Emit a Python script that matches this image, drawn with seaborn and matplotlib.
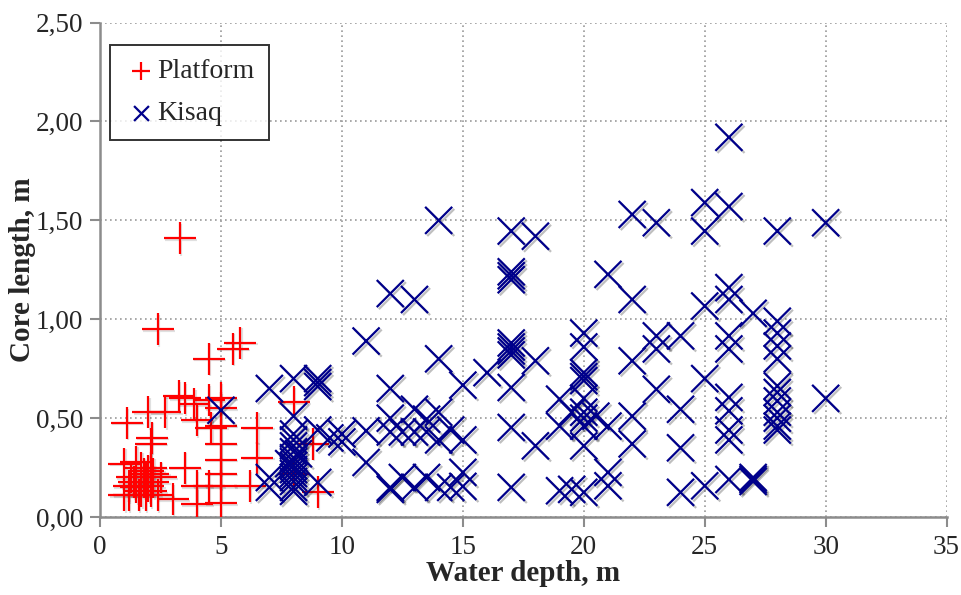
import numpy as np
import pandas as pd
import matplotlib
matplotlib.use("Agg")
import matplotlib.pyplot as plt
import matplotlib.ticker as mticker
import matplotlib.patheffects as pe
import seaborn as sns

# ── Platform cores (water depth m, core length m) ─────────────────────────────
platform_depth = [
    3.3, 2.4, 4.5, 5.5, 5.8, 3.25, 3.5, 3.9, 2.7, 2.0, 1.1, 4.0, 4.5, 4.6,
    5.0, 5.0, 5.0, 5.0, 5.0, 5.0, 5.0, 5.0,
    2.1, 2.15, 3.5, 6.5, 6.5, 8.0, 6.2, 9.0, 8.8, 4.0, 3.0, 4.5, 4.0, 8.0,
    1.0, 1.0, 1.2, 1.5, 1.5, 1.7, 1.7, 1.8, 1.8, 1.9, 1.9, 2.0, 2.0,
    2.1, 2.1, 2.2, 2.2, 1.3, 1.4, 1.6, 2.5, 1.2, 2.4,
]
platform_core = [
    1.41, 0.95, 0.80, 0.85, 0.88, 0.61, 0.60, 0.57, 0.53, 0.53, 0.475, 0.49, 0.59, 0.45,
    0.60, 0.55, 0.46, 0.37, 0.29, 0.22, 0.155, 0.07,
    0.37, 0.40, 0.25, 0.45, 0.30, 0.58, 0.155, 0.125, 0.37, 0.155, 0.09, 0.155, 0.065, 0.22,
    0.27, 0.11, 0.11, 0.28, 0.15, 0.25, 0.13, 0.22, 0.175, 0.20, 0.11, 0.234, 0.155,
    0.25, 0.13, 0.22, 0.175, 0.20, 0.175, 0.11, 0.20, 0.155, 0.11,
]

# ── Kisaq cores ───────────────────────────────────────────────────────────────
kisaq_depth = [
    5,
    7, 7, 7,
    8, 8, 8, 8, 8, 8, 8, 8, 8, 8, 8, 8, 8, 8, 8, 7.8, 8.2,
    9, 9, 9, 9, 9,
    9.5, 10, 10,
    11, 11, 11,
    12, 12, 12, 12, 12, 12,
    12.5, 12.5,
    13, 13, 13, 13,
    13.5, 13.5, 13.5,
    14, 14, 14, 14, 14,
    14.5, 14.5,
    15, 15, 15, 15,
    16,
    17, 17, 17, 17, 17, 17, 17, 17, 17, 17, 17,
    18, 18, 18,
    19, 19, 19,
    19.5, 19.5,
    20, 20, 20, 20, 20, 20, 20, 20, 20, 20, 20,
    20.5,
    21, 21, 21, 21,
    22, 22, 22, 22, 22,
    23, 23, 23, 23,
    24, 24, 24, 24,
    25, 25, 25, 25, 25,
    26, 26, 26, 26, 26, 26, 26, 26, 26, 26, 26,
    27, 27, 27, 27,
    28, 28, 28, 28, 28, 28, 28, 28, 28, 28, 28, 28,
    30, 30,
]
kisaq_core = [
    0.54,
    0.65, 0.20, 0.15,
    0.70, 0.51, 0.39, 0.42, 0.36, 0.33, 0.30, 0.28, 0.26, 0.24, 0.22, 0.20, 0.18, 0.15, 0.13, 0.27, 0.32,
    0.70, 0.68, 0.66, 0.44, 0.175,
    0.40, 0.42, 0.38,
    0.89, 0.436, 0.276,
    1.13, 0.65, 0.50, 0.43, 0.15, 0.14,
    0.43, 0.20,
    1.10, 0.545, 0.43, 0.15,
    0.495, 0.43, 0.20,
    1.50, 0.80, 0.53, 0.39, 0.15,
    0.44, 0.15,
    0.667, 0.39, 0.226, 0.155,
    0.73,
    1.446, 1.24, 1.22, 1.20, 0.88, 0.86, 0.84, 0.82, 0.655, 0.453, 0.15,
    1.42, 0.79, 0.36,
    0.596, 0.46, 0.133,
    0.53, 0.14,
    0.93, 0.86, 0.73, 0.71, 0.69, 0.60, 0.53, 0.50, 0.46, 0.36, 0.125,
    0.51,
    1.227, 0.46, 0.226, 0.158,
    1.53, 1.10, 0.79, 0.51, 0.37,
    1.488, 0.916, 0.85, 0.646,
    0.916, 0.545, 0.35, 0.125,
    1.59, 1.446, 1.067, 0.70, 0.158,
    1.92, 1.57, 1.16, 1.10, 0.916, 0.85, 0.605, 0.537, 0.44, 0.39, 0.19,
    1.03, 0.19, 0.20, 0.18,
    1.446, 0.99, 0.93, 0.865, 0.80, 0.663, 0.63, 0.587, 0.53, 0.50, 0.46, 0.44,
    1.488, 0.60,
]

X_TICKS = [0, 5, 10, 15, 20, 25, 30, 35]
Y_TICKS = [0.0, 0.5, 1.0, 1.5, 2.0, 2.5]

RED  = "#FF0000"
NAVY = "#00008B"
GRAY = "#8C8C8C"

platform = pd.DataFrame({"depth": platform_depth, "core": platform_core})
kisaq = pd.DataFrame({"depth": kisaq_depth, "core": kisaq_core})

sns.set_style("white")
plt.rcParams["font.family"] = ["Liberation Serif", "DejaVu Serif"]

fig, ax = plt.subplots(figsize=(9.62, 5.95), dpi=100)
fig.subplots_adjust(left=0.104, right=0.984, top=0.962, bottom=0.131)

sns.scatterplot(data=platform, x="depth", y="core", ax=ax, marker="+",
                color=RED, s=530, linewidth=1.6, label="Platform", zorder=3)
ax.collections[-1].set_path_effects(
    [pe.SimpleLineShadow(offset=(1, -1), shadow_color="black", alpha=0.12), pe.Normal()])

sns.scatterplot(data=kisaq, x="depth", y="core", ax=ax, marker="x",
                color=NAVY, s=380, linewidth=1.6, label="Kisaq", zorder=4)
ax.collections[-1].set_path_effects(
    [pe.SimpleLineShadow(offset=(1.5, -1.5), shadow_color="black", alpha=0.25), pe.Normal()])

# axes styling
ax.set_xlim(0, 35)
ax.set_ylim(0, 2.5)
ax.set_xticks(X_TICKS)
ax.set_yticks(Y_TICKS)
ax.yaxis.set_major_formatter(mticker.FuncFormatter(lambda v, _: f"{v:.2f}".replace(".", ",")))
ax.grid(True, linestyle=(0, (1, 2)), color="#9A9A9A", linewidth=1.2)
ax.set_axisbelow(True)

for side in ("top", "right"):
    ax.spines[side].set_visible(False)
for side in ("left", "bottom"):
    ax.spines[side].set_color(GRAY)
    ax.spines[side].set_linewidth(1.8)
ax.tick_params(axis="both", direction="out", length=7, width=1.5, color=GRAY,
               labelsize=19.5, pad=5, left=True, bottom=True)
ax.tick_params(axis="x", pad=6)

ax.set_xlabel("Water depth, m", fontsize=21, fontweight="bold", labelpad=0)
ax.set_ylabel("Core length, m", fontsize=21, fontweight="bold")
ax.yaxis.set_label_coords(-0.076, 0.5)

leg = ax.legend(loc="upper left", bbox_to_anchor=(0.012, 0.955), fontsize=20,
                markerscale=0.55, frameon=True, fancybox=False, handletextpad=0.0,
                handlelength=1.2, labelspacing=0.6, borderpad=0.5, borderaxespad=0)
leg.get_frame().set_edgecolor("black")
leg.get_frame().set_linewidth(1.4)
for h in leg.legend_handles:
    h.set_path_effects([])

fig.savefig("out.png", dpi=100)
